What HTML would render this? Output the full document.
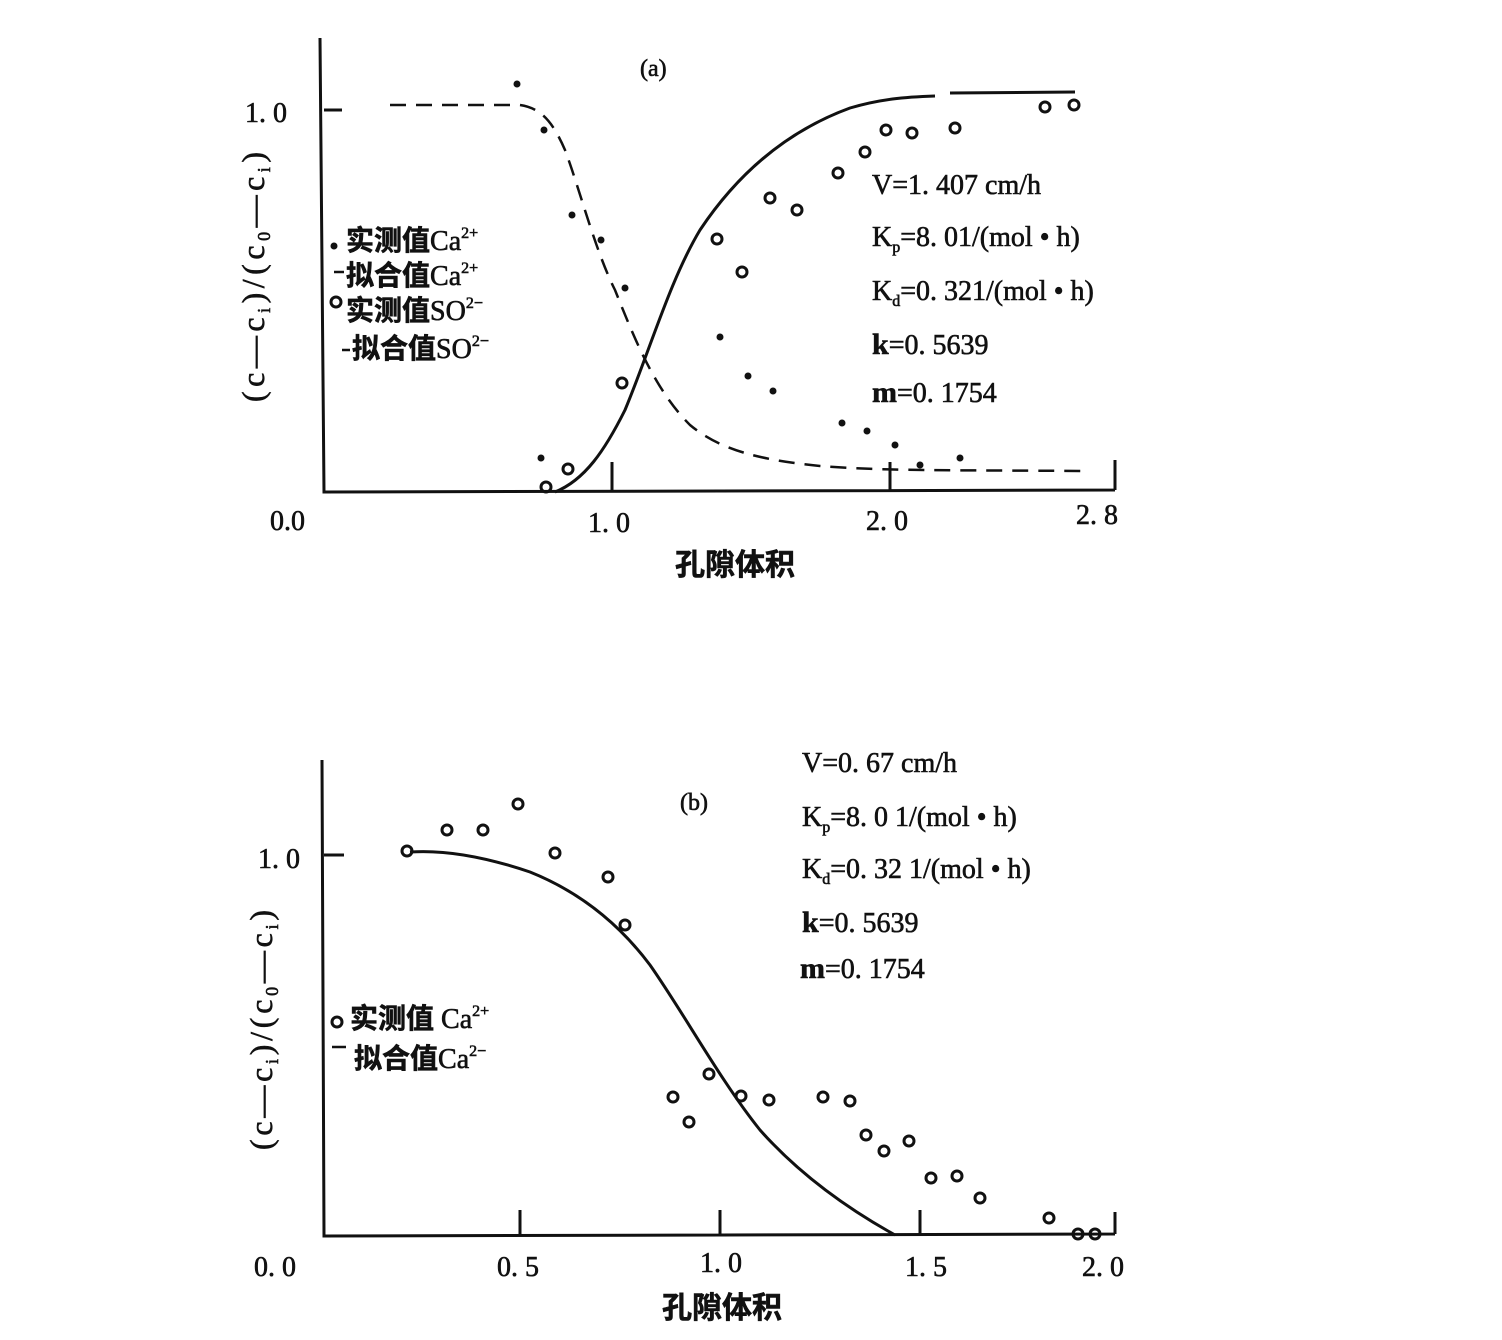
<!DOCTYPE html>
<html><head><meta charset="utf-8"><style>
html,body{margin:0;padding:0;background:#fff;}
svg{display:block;}
text{font-family:"Liberation Serif","Noto Serif CJK SC",serif;fill:#111;stroke:#111;stroke-width:0.6;}
.cj{font-family:"Liberation Serif","Noto Sans CJK SC",sans-serif;font-weight:bold;}
</style></head><body>
<svg width="1502" height="1340" viewBox="0 0 1502 1340" xmlns="http://www.w3.org/2000/svg">
<g stroke="#111" fill="none" stroke-width="3">
<path d="M320 38 L324 492 L1115 490 M324 110 L342 110 M612 492 L612 462 M890 491 L890 462 M1115 490 L1115 460"/>
<path d="M555 492 C585 480 605 450 625 410 C650 350 670 280 700 230 C740 170 790 130 850 108 C880 99 905 97 935 96 M950 93 L1075 92"/>
<path stroke-dasharray="16,10" stroke-width="2.5" d="M390 105 L520 105 C540 108 552 120 565 150 C580 190 595 250 615 290 C635 340 655 390 690 425 C720 450 760 460 820 466 C880 471 950 470 1085 471"/>
<path d="M322 760 L324 1236 L1115 1234 M324 855 L344 855 M520 1235 L520 1210 M720 1235 L720 1210 M920 1235 L920 1210 M1115 1234 L1115 1212"/>
<path d="M410 852 C440 850 480 855 530 872 C580 892 620 925 650 965 C685 1015 720 1080 760 1130 C800 1175 850 1210 895 1235"/>
</g>
<g fill="#111">
<circle cx="517" cy="84" r="3.5"/><circle cx="544" cy="130" r="3.5"/><circle cx="572" cy="215" r="3.5"/><circle cx="601" cy="240" r="3.5"/><circle cx="625" cy="288" r="3.5"/><circle cx="720" cy="337" r="3.5"/><circle cx="748" cy="376" r="3.5"/><circle cx="773" cy="391" r="3.5"/><circle cx="842" cy="423" r="3.5"/><circle cx="867" cy="431" r="3.5"/><circle cx="895" cy="445" r="3.5"/><circle cx="920" cy="465" r="3.5"/><circle cx="960" cy="458" r="3.5"/><circle cx="541" cy="458" r="3.5"/><circle cx="334" cy="246" r="3.5"/>
</g>
<g fill="none" stroke="#111" stroke-width="3">
<circle cx="546" cy="487" r="5"/><circle cx="568" cy="469" r="5"/><circle cx="622" cy="383" r="5"/><circle cx="717" cy="239" r="5"/><circle cx="742" cy="272" r="5"/><circle cx="770" cy="198" r="5"/><circle cx="797" cy="210" r="5"/><circle cx="838" cy="173" r="5"/><circle cx="865" cy="152" r="5"/><circle cx="886" cy="130" r="5"/><circle cx="912" cy="133" r="5"/><circle cx="955" cy="128" r="5"/><circle cx="1045" cy="107" r="5"/><circle cx="1074" cy="105" r="5"/><circle cx="336" cy="302" r="5"/>
<circle cx="407" cy="851" r="5"/><circle cx="447" cy="830" r="5"/><circle cx="483" cy="830" r="5"/><circle cx="518" cy="804" r="5"/><circle cx="555" cy="853" r="5"/><circle cx="608" cy="877" r="5"/><circle cx="625" cy="925" r="5"/><circle cx="673" cy="1097" r="5"/><circle cx="689" cy="1122" r="5"/><circle cx="709" cy="1074" r="5"/><circle cx="741" cy="1096" r="5"/><circle cx="769" cy="1100" r="5"/><circle cx="823" cy="1097" r="5"/><circle cx="850" cy="1101" r="5"/><circle cx="866" cy="1135" r="5"/><circle cx="884" cy="1151" r="5"/><circle cx="909" cy="1141" r="5"/><circle cx="931" cy="1178" r="5"/><circle cx="957" cy="1176" r="5"/><circle cx="980" cy="1198" r="5"/><circle cx="1049" cy="1218" r="5"/><circle cx="1078" cy="1234" r="5"/><circle cx="1095" cy="1234" r="5"/><circle cx="337" cy="1022" r="5"/>
</g>
<g stroke="#111" stroke-width="2.5"><path d="M334 272 L344 272 M342 350 L350 350 M332 1047 L346 1047"/></g>
<text x="640" y="76" font-size="24">(a)</text>
<text x="245" y="122" font-size="28">1. 0</text>
<text x="270" y="530" font-size="28">0.0</text>
<text x="588" y="532" font-size="28">1. 0</text>
<text x="866" y="530" font-size="28">2. 0</text>
<text x="1076" y="524" font-size="28">2. 8</text>
<text x="675" y="575" font-size="30" class="cj">孔隙体积</text>
<text transform="translate(264,402) rotate(-90)" font-size="32" textLength="250" lengthAdjust="spacing">(c—c<tspan font-size="18" dy="6">i</tspan><tspan dy="-6">)/(c</tspan><tspan font-size="18" dy="6">0</tspan><tspan dy="-6">—c</tspan><tspan font-size="18" dy="6">i</tspan><tspan dy="-6">)</tspan></text>
<text x="346" y="250" font-size="28" class="cj">实测值<tspan font-weight="normal" font-family="Liberation Serif">Ca<tspan font-size="16" dy="-12">2+</tspan></tspan></text>
<text x="346" y="285" font-size="28" class="cj">拟合值<tspan font-weight="normal" font-family="Liberation Serif">Ca<tspan font-size="16" dy="-12">2+</tspan></tspan></text>
<text x="346" y="320" font-size="28" class="cj">实测值<tspan font-weight="normal" font-family="Liberation Serif">SO<tspan font-size="16" dy="-12">2−</tspan></tspan></text>
<text x="352" y="358" font-size="28" class="cj">拟合值<tspan font-weight="normal" font-family="Liberation Serif">SO<tspan font-size="16" dy="-12">2−</tspan></tspan></text>
<text x="872" y="194" font-size="28">V=1. 407 cm/h</text>
<text x="872" y="246" font-size="28">K<tspan font-size="16" dy="6">p</tspan><tspan dy="-6">=8. 01/(mol • h)</tspan></text>
<text x="872" y="300" font-size="28">K<tspan font-size="16" dy="6">d</tspan><tspan dy="-6">=0. 321/(mol • h)</tspan></text>
<text x="872" y="354" font-size="30" font-weight="bold">k<tspan font-weight="normal" font-size="28">=0. 5639</tspan></text>
<text x="872" y="402" font-size="30" font-weight="bold">m<tspan font-weight="normal" font-size="28">=0. 1754</tspan></text>
<text x="680" y="810" font-size="24">(b)</text>
<text x="258" y="868" font-size="28">1. 0</text>
<text x="254" y="1276" font-size="28">0. 0</text>
<text x="497" y="1276" font-size="28">0. 5</text>
<text x="700" y="1272" font-size="28">1. 0</text>
<text x="905" y="1276" font-size="28">1. 5</text>
<text x="1082" y="1276" font-size="28">2. 0</text>
<text x="662" y="1318" font-size="30" class="cj">孔隙体积</text>
<text transform="translate(272,1150) rotate(-90)" font-size="32" textLength="240" lengthAdjust="spacing">(c—c<tspan font-size="18" dy="6">i</tspan><tspan dy="-6">)/(c</tspan><tspan font-size="18" dy="6">0</tspan><tspan dy="-6">—c</tspan><tspan font-size="18" dy="6">i</tspan><tspan dy="-6">)</tspan></text>
<text x="350" y="1028" font-size="28" class="cj">实测值 <tspan font-weight="normal" font-family="Liberation Serif">Ca<tspan font-size="16" dy="-12">2+</tspan></tspan></text>
<text x="354" y="1068" font-size="28" class="cj">拟合值<tspan font-weight="normal" font-family="Liberation Serif">Ca<tspan font-size="16" dy="-12">2−</tspan></tspan></text>
<text x="802" y="772" font-size="28">V=0. 67 cm/h</text>
<text x="802" y="826" font-size="28">K<tspan font-size="16" dy="6">p</tspan><tspan dy="-6">=8. 0 1/(mol • h)</tspan></text>
<text x="802" y="878" font-size="28">K<tspan font-size="16" dy="6">d</tspan><tspan dy="-6">=0. 32 1/(mol • h)</tspan></text>
<text x="802" y="932" font-size="30" font-weight="bold">k<tspan font-weight="normal" font-size="28">=0. 5639</tspan></text>
<text x="800" y="978" font-size="30" font-weight="bold">m<tspan font-weight="normal" font-size="28">=0. 1754</tspan></text>
</svg>
</body></html>
